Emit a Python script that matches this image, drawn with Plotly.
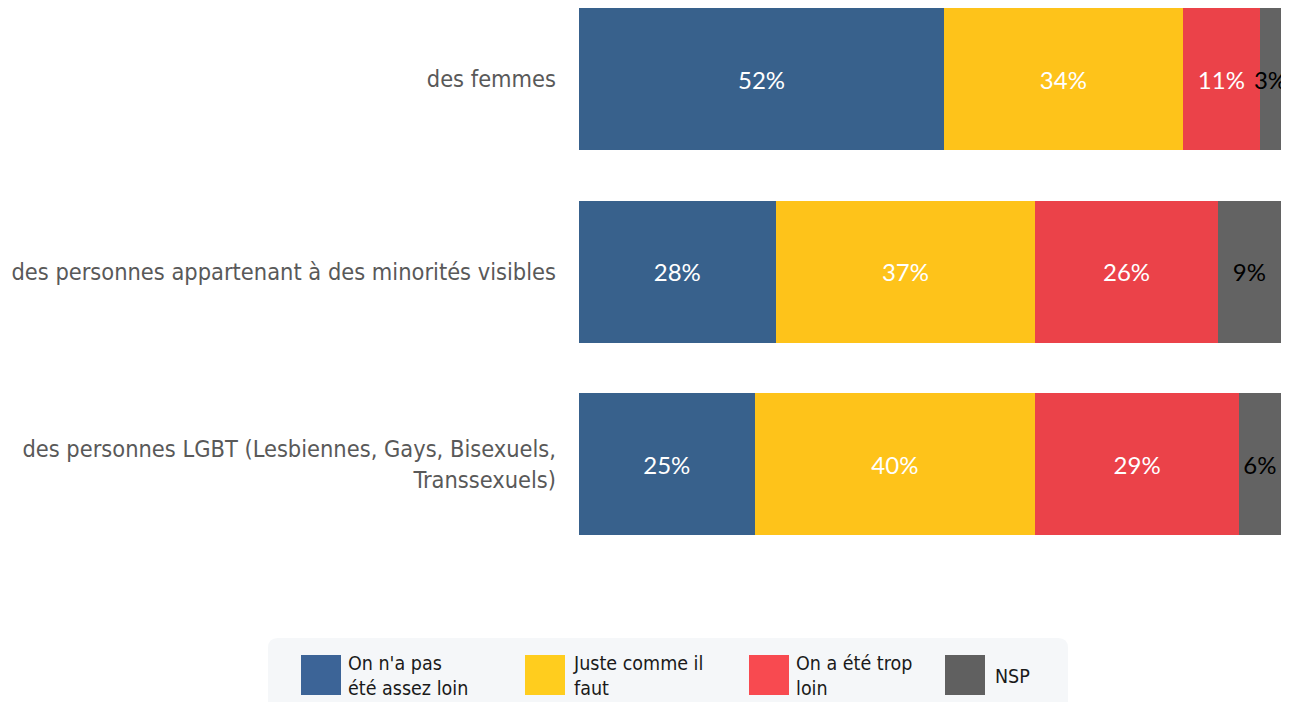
import plotly.graph_objects as go

categories = [
    "des femmes",
    "des personnes appartenant à des minorités visibles",
    "des personnes LGBT (Lesbiennes, Gays, Bisexuels,<br>Transsexuels)",
]
series_names = ["On n'a pas<br>été assez loin", "Juste comme il<br>faut", "On a été trop<br>loin", "NSP"]
values = {
    "On n'a pas<br>été assez loin": [52, 28, 25],
    "Juste comme il<br>faut": [34, 37, 40],
    "On a été trop<br>loin": [11, 26, 29],
    "NSP": [3, 9, 6],
}
colors = ["#38618C", "#FEC31A", "#EB4249", "#636363"]
legend_colors = ["#3C6497", "#FFCD1E", "#F84A50", "#606060"]
text_colors = ["white", "white", "white", "black"]

FONT = "'DejaVu Sans Condensed', 'DejaVu Sans', sans-serif"

fig = go.Figure()
for name, col, tcol in zip(series_names, colors, text_colors):
    vals = values[name]
    fig.add_trace(go.Bar(
        y=categories, x=vals, name=name, orientation="h",
        marker=dict(color=col, line=dict(width=0)),
        text=[f"{v}%" for v in vals], textposition="inside", textangle=0,
        insidetextanchor="middle", constraintext="none",
        textfont=dict(color=tcol, size=24, family="Lato, 'Open Sans', sans-serif"),
        showlegend=False, hoverinfo="skip",
    ))

# page is rendered with an 8px body margin; figure sized to fill the rest
OFF = 8
W, H = 1290 - OFF, 702 - OFF
ml, mr, mt, mb = 571, 9, 0, 142
pw, ph = W - ml - mr, H - mt - mb

fig.update_layout(
    width=W, height=H, barmode="stack", bargap=0.262,
    margin=dict(l=ml, r=mr, t=mt, b=mb),
    paper_bgcolor="white", plot_bgcolor="white",
    xaxis=dict(range=[0, 100], visible=False, fixedrange=True),
    yaxis=dict(
        categoryorder="array", categoryarray=categories,
        range=[2.498, -0.369], showgrid=False, showline=False, zeroline=False,
        ticks="", ticklabelstandoff=22,
        tickfont=dict(size=23.4, color="#595959", family=FONT),
    ),
    font=dict(family=FONT),
)

# legend panel, positioned from page pixel coordinates
def px(x):
    return (x - OFF - ml) / pw

def py(y):
    return 1 - (y - OFF - mt) / ph

x0, x1, y0, y1, r = 268, 1068, 638, 712, 10
path = (f"M {px(x0)},{py(y0 + r)} Q {px(x0)},{py(y0)} {px(x0 + r)},{py(y0)} "
        f"L {px(x1 - r)},{py(y0)} Q {px(x1)},{py(y0)} {px(x1)},{py(y0 + r)} "
        f"L {px(x1)},{py(y1)} L {px(x0)},{py(y1)} Z")
fig.add_shape(type="path", xref="paper", yref="paper", path=path,
              fillcolor="#F5F7F9", line=dict(width=0), layer="below")

swatch_x = [301, 525, 749, 945]
text_x = [346, 571, 794, 993]
for name, col, sx, tx in zip(series_names, legend_colors, swatch_x, text_x):
    fig.add_shape(type="rect", xref="paper", yref="paper",
                  x0=px(sx), x1=px(sx + 40), y0=py(695), y1=py(655),
                  fillcolor=col, line=dict(width=0))
    fig.add_annotation(xref="paper", yref="paper", x=px(tx), y=py(676),
                       xanchor="left", yanchor="middle", align="left",
                       text=name, showarrow=False,
                       font=dict(size=19.5, color="#1a1a1a", family=FONT))

fig.write_html("out.html")
